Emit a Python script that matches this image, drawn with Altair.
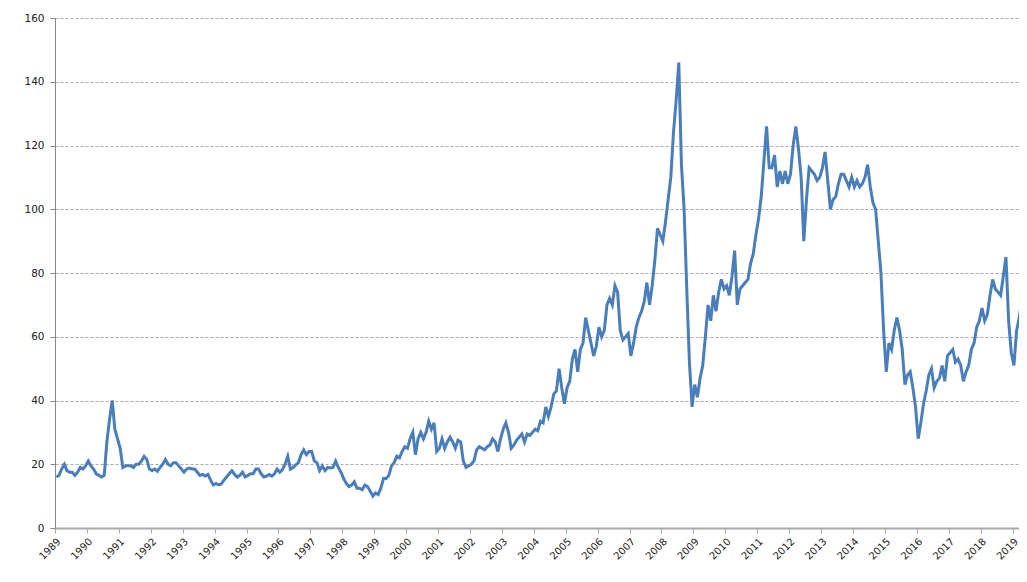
import altair as alt
import pandas as pd

years = list(range(1989, 2020))

# monthly Brent-like price values (USD/bbl)
monthly = {
    1989: [16, 16.5, 18.5, 20, 18, 17.5, 17.5, 16.5, 17.5, 19, 18.5, 19.5],
    1990: [21, 19.5, 18.5, 17, 16.5, 16, 16.5, 27, 34, 40, 31, 28],
    1991: [25, 19, 19.5, 19.5, 19.5, 19, 20, 20, 21, 22.5, 21.5, 18.5],
    1992: [18, 18.5, 17.8, 19, 20, 21.5, 20, 19.5, 20.5, 20.5, 19.5, 18.5],
    1993: [17.5, 18.5, 18.8, 18.5, 18.5, 17.5, 16.5, 16.8, 16.3, 16.8, 15, 13.5],
    1994: [14, 13.5, 13.8, 15, 16, 17, 18, 16.8, 16, 16.5, 17.5, 16],
    1995: [16.5, 17, 17, 18.5, 18.5, 17, 16, 16.3, 16.8, 16.3, 17, 18.5],
    1996: [17.5, 18.3, 20, 22.5, 18.5, 19, 19.8, 20.5, 23, 24.5, 23, 24],
    1997: [24, 21, 20.5, 18, 19.5, 18, 19, 18.8, 19, 21, 19, 17.5],
    1998: [15.5, 14, 13, 13.5, 14.5, 12.5, 12.5, 12, 13.5, 13, 11.5, 10],
    1999: [11, 10.5, 12.5, 15.5, 15.5, 16.5, 19.5, 20.5, 22.5, 22, 24, 25.5],
    2000: [25, 28, 30, 23, 28, 30, 28, 30, 33.5, 31, 33, 24],
    2001: [25, 28, 25, 27, 28.5, 27, 25, 27.5, 27, 21, 19, 19.5],
    2002: [20, 21, 24.5, 25.5, 25, 24.5, 25.5, 26, 28, 27, 24, 28],
    2003: [31, 33, 30, 25, 26, 27.5, 28.5, 29.5, 27, 29.5, 29, 30],
    2004: [31, 30.5, 33.5, 33, 38, 35, 38, 42, 43, 50, 44, 39],
    2005: [44, 46, 53, 56, 49, 56, 58, 66, 62, 58, 54, 57],
    2006: [63, 60, 62, 70, 72, 70, 76, 74, 62, 59, 60, 61],
    2007: [54, 58, 63, 66, 68, 71, 77, 70, 76, 84, 94, 92],
    2008: [90, 96, 103, 110, 124, 134, 146, 114, 100, 75, 52, 38],
    2009: [45, 41, 47, 51, 60, 70, 65, 73, 68, 74, 78, 75],
    2010: [76, 73, 79, 87, 70, 75, 76, 77, 78, 83, 86, 92],
    2011: [97, 104, 115, 126, 113, 113, 117, 107, 112, 108, 112, 108],
    2012: [111, 120, 126, 119, 110, 90, 103, 113, 112, 111, 109, 110],
    2013: [113, 118, 109, 100, 103, 104, 108, 111, 111, 109, 107, 110],
    2014: [107, 109, 107, 108, 110, 114, 107, 102, 100, 90, 80, 62],
    2015: [49, 58, 56, 62, 66, 62, 56, 45, 48, 49, 44, 38],
    2016: [28, 33, 39, 43, 48, 50, 44, 46, 47, 51, 46, 54],
    2017: [55, 56, 52, 53, 51, 46, 49, 51, 56, 58, 63, 65],
    2018: [69, 65, 67, 73, 78, 75, 74, 73, 79, 85, 65, 55],
    2019: [51, 62, 66, 72],
}

t_vals, p_vals = [], []
for y in years:
    for m, v in enumerate(monthly[y]):
        t_vals.append(y + (m + 0.5) / 12)
        p_vals.append(v)

df = pd.DataFrame({"t": t_vals, "price": p_vals})

y_ticks = [0, 20, 40, 60, 80, 100, 120, 140, 160]

line = alt.Chart(df).mark_line(color="#4a7ebb", strokeWidth=3, clip=True).encode(
    x=alt.X("t:Q",
            scale=alt.Scale(domain=[1989, 2019.2], nice=False, zero=False),
            axis=alt.Axis(values=years, format="d", labelAngle=-45, title=None,
                          grid=False, domainColor="#aaaaaa", domainWidth=2,
                          tickColor="#aaaaaa", tickSize=5, labelFont="DejaVu Sans",
                          labelFontSize=10, labelColor="#222222", labelPadding=3,
                          labelOverlap=False, labelFlush=False)),
    y=alt.Y("price:Q",
            scale=alt.Scale(domain=[0, 160], nice=False),
            axis=alt.Axis(values=y_ticks, title=None, grid=True,
                          gridColor="#aaaaaa", gridDash=[3, 2], gridWidth=1,
                          domainColor="#888888", tickColor="#888888", tickSize=5,
                          labelFont="DejaVu Sans", labelFontSize=10.5,
                          labelColor="#222222", labelPadding=6)),
)

chart = line.properties(
    width=964, height=510,
    padding={"left": 47, "top": 10, "right": 0, "bottom": 40},
    autosize=alt.AutoSizeParams(type="none"),
).configure_view(stroke=None)

chart.save("out.html", embed_options={"renderer": "svg", "actions": False})
